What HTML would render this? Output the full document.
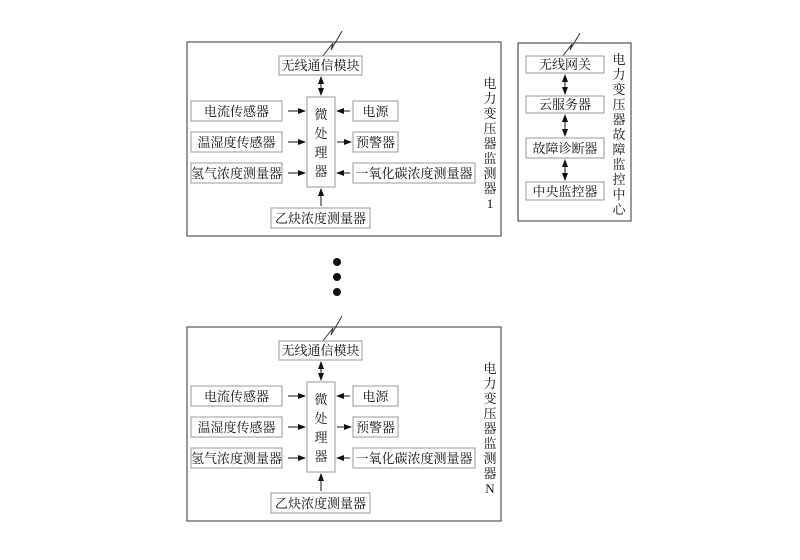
<!DOCTYPE html>
<html><head><meta charset="utf-8"><style>
body{margin:0;background:#fff}
svg{display:block}
text{font-family:"Liberation Serif","Noto Serif CJK SC",serif;font-size:13px;fill:#111}
</style></head><body>
<svg width="800" height="560" viewBox="0 0 800 560" xmlns="http://www.w3.org/2000/svg">
<defs>
<marker id="a" markerWidth="8" markerHeight="6" refX="7" refY="3" orient="auto" markerUnits="userSpaceOnUse"><path d="M0,0L8,3L0,6z" fill="#111"/></marker>
<marker id="b" markerWidth="8" markerHeight="6" refX="1" refY="3" orient="auto" markerUnits="userSpaceOnUse"><path d="M8,0L0,3L8,6z" fill="#111"/></marker>
<g id="mod">
<rect x="187" y="42" width="314" height="194" fill="none" stroke="#555" stroke-width="1.2"/>
<polyline points="322,57 333,43 331,50 342,31" fill="none" stroke="#333" stroke-width="1"/>
<g fill="#fff" stroke="#999" stroke-width="1">
<rect x="279" y="56" width="83" height="19"/>
<rect x="307" y="97" width="28" height="90"/>
<rect x="191" y="101" width="91" height="20"/>
<rect x="191" y="132" width="91" height="20"/>
<rect x="191" y="163" width="91" height="20"/>
<rect x="353" y="101" width="45" height="20"/>
<rect x="353" y="132" width="45" height="20"/>
<rect x="353" y="163" width="122" height="20"/>
<rect x="271" y="208" width="99" height="20"/>
</g>
<g stroke="#111" stroke-width="1">
<line x1="321" y1="77" x2="321" y2="95" marker-start="url(#b)" marker-end="url(#a)"/>
<line x1="288" y1="111" x2="305" y2="111" marker-end="url(#a)"/>
<line x1="288" y1="142" x2="305" y2="142" marker-end="url(#a)"/>
<line x1="288" y1="173" x2="305" y2="173" marker-end="url(#a)"/>
<line x1="350" y1="111" x2="337" y2="111" marker-end="url(#a)"/>
<line x1="337" y1="142" x2="351" y2="142" marker-end="url(#a)"/>
<line x1="350" y1="173" x2="337" y2="173" marker-end="url(#a)"/>
<line x1="321" y1="206" x2="321" y2="189" marker-end="url(#a)"/>
</g>
<text x="320.5" y="70" text-anchor="middle">无线通信模块</text>
<text x="236.5" y="116" text-anchor="middle">电流传感器</text>
<text x="236.5" y="147" text-anchor="middle">温湿度传感器</text>
<text x="236.5" y="178" text-anchor="middle">氢气浓度测量器</text>
<text x="375.5" y="116" text-anchor="middle">电源</text>
<text x="375.5" y="147" text-anchor="middle">预警器</text>
<text x="414" y="178" text-anchor="middle">一氧化碳浓度测量器</text>
<text x="320.5" y="223" text-anchor="middle">乙炔浓度测量器</text>
<g text-anchor="middle">
<text x="321" y="119">微</text><text x="321" y="138">处</text><text x="321" y="157">理</text><text x="321" y="176">器</text>
<text x="490" y="88">电</text><text x="490" y="103">力</text><text x="490" y="118">变</text><text x="490" y="133">压</text><text x="490" y="148">器</text><text x="490" y="163">监</text><text x="490" y="178">测</text><text x="490" y="193">器</text>
</g>
</g>
</defs>
<use href="#mod"/>
<text x="490" y="208" text-anchor="middle">1</text>
<use href="#mod" transform="translate(0,285)"/>
<text x="490" y="493" text-anchor="middle">N</text>
<circle cx="337" cy="262" r="4" fill="#111"/>
<circle cx="337" cy="277" r="4" fill="#111"/>
<circle cx="337" cy="292" r="4" fill="#111"/>
<rect x="518" y="43" width="113" height="178" fill="none" stroke="#555" stroke-width="1.2"/>
<polyline points="562,57 572,44 570,50 580,33" fill="none" stroke="#333" stroke-width="1"/>
<g fill="#fff" stroke="#999" stroke-width="1">
<rect x="526" y="56" width="78" height="17"/>
<rect x="526" y="96" width="78" height="17"/>
<rect x="526" y="138" width="78" height="20"/>
<rect x="526" y="182" width="78" height="18"/>
</g>
<g stroke="#111" stroke-width="1">
<line x1="565" y1="75" x2="565" y2="94" marker-start="url(#b)" marker-end="url(#a)"/>
<line x1="565" y1="115" x2="565" y2="136" marker-start="url(#b)" marker-end="url(#a)"/>
<line x1="565" y1="160" x2="565" y2="180" marker-start="url(#b)" marker-end="url(#a)"/>
</g>
<g text-anchor="middle">
<text x="565" y="69">无线网关</text>
<text x="565" y="109">云服务器</text>
<text x="565" y="153">故障诊断器</text>
<text x="565" y="196">中央监控器</text>
<text x="619" y="64">电</text><text x="619" y="79">力</text><text x="619" y="94">变</text><text x="619" y="109">压</text><text x="619" y="124">器</text><text x="619" y="139">故</text><text x="619" y="154">障</text><text x="619" y="169">监</text><text x="619" y="184">控</text><text x="619" y="199">中</text><text x="619" y="214">心</text>
</g>
</svg>
</body></html>
